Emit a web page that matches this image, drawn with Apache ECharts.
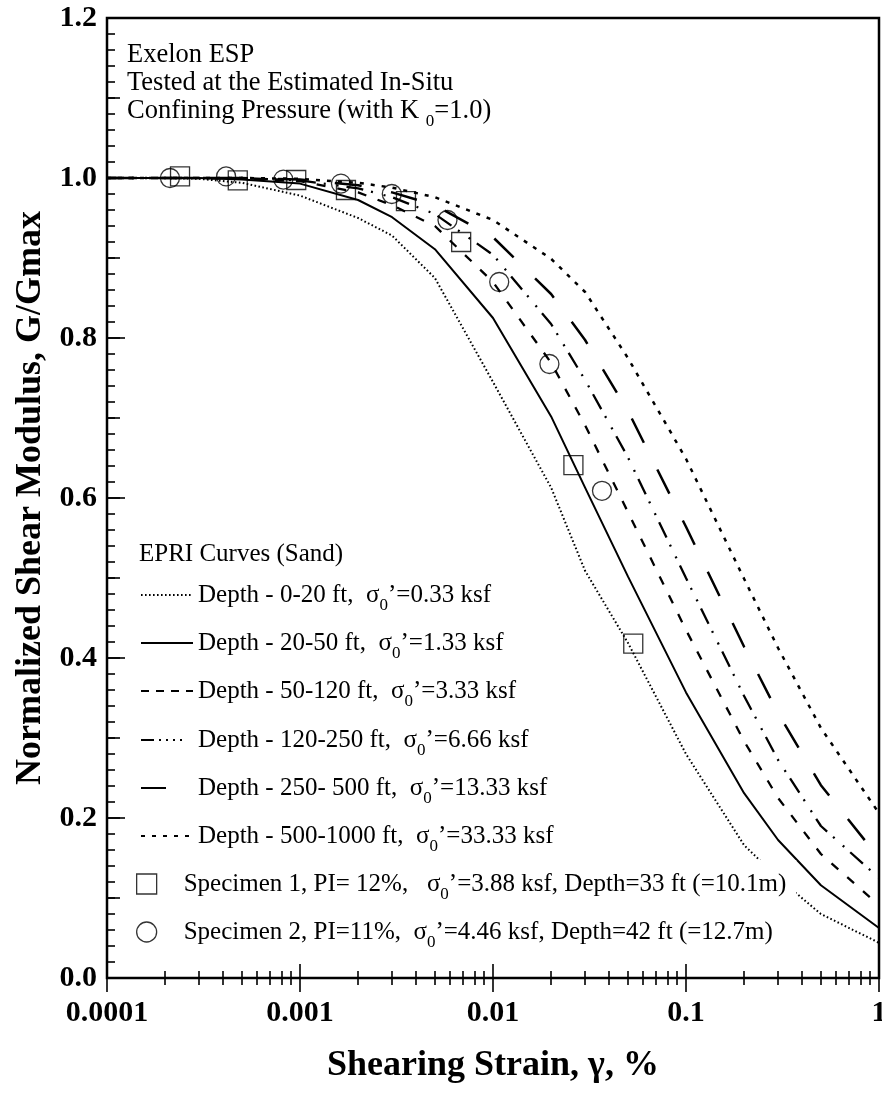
<!DOCTYPE html>
<html><head><meta charset="utf-8">
<script src="https://cdn.jsdelivr.net/npm/echarts@6/dist/echarts.min.js"></script>
<style>html,body{margin:0;padding:0;background:#fff}#c{width:882px;height:1096px}</style>
</head><body><div id="c"></div>
<script>
// ---------- data ----------
const strains = [0.0001, 0.0002, 0.0003, 0.0005, 0.001, 0.002, 0.003, 0.005, 0.01, 0.02, 0.03, 0.05, 0.1, 0.2, 0.3, 0.5, 1.0];
const g_0_20     = [1.0, 1.0, 0.999, 0.994, 0.978, 0.950, 0.928, 0.875, 0.745, 0.613, 0.509, 0.419, 0.280, 0.166, 0.125, 0.080, 0.044];
const g_20_50    = [1.0, 1.0, 1.0, 0.998, 0.993, 0.9725, 0.951, 0.911, 0.825, 0.702, 0.613, 0.502, 0.357, 0.231, 0.1725, 0.116, 0.0625];
const g_50_120   = [1.0, 1.0, 1.0, 0.999, 0.996, 0.982, 0.966, 0.940, 0.870, 0.769, 0.691, 0.5825, 0.435, 0.296, 0.225, 0.155, 0.091];
const g_120_250  = [1.0, 1.0, 1.0, 1.0, 0.997, 0.987, 0.976, 0.955, 0.904, 0.8175, 0.7475, 0.651, 0.500, 0.3525, 0.2725, 0.190, 0.125];
const g_250_500  = [1.0, 1.0, 1.0, 1.0, 0.998, 0.991, 0.982, 0.966, 0.926, 0.855, 0.7975, 0.709, 0.564, 0.414, 0.331, 0.241, 0.150];
const g_500_1000 = [1.0, 1.0, 1.0, 1.0, 0.999, 0.994, 0.988, 0.976, 0.9475, 0.899, 0.8575, 0.775, 0.649, 0.499, 0.4125, 0.3125, 0.206];
const curveNames = ['Depth - 0-20 ft', 'Depth - 20-50 ft', 'Depth - 50-120 ft', 'Depth - 120-250 ft', 'Depth - 250- 500 ft', 'Depth - 500-1000 ft'];
const curveSigma = ['0.33', '1.33', '3.33', '6.66', '13.33', '33.33'];
const curveValues = [g_0_20, g_20_50, g_50_120, g_120_250, g_250_500, g_500_1000];

const spec1Strain = [0.000239, 0.000476, 0.000956, 0.00173, 0.00354, 0.00684, 0.0261, 0.0533];
const spec1G      = [1.002, 0.997, 0.9975, 0.985, 0.971, 0.920, 0.641, 0.418];
const spec2Strain = [0.000212, 0.000414, 0.00082, 0.00163, 0.00299, 0.00581, 0.01077, 0.0196, 0.0367];
const spec2G      = [1.0, 1.002, 0.998, 0.993, 0.980, 0.9475, 0.870, 0.7675, 0.609];
const specNames = ['Specimen 1', 'Specimen 2'];
const specPI = ['PI= 12%,   ', 'PI=11%,  '];
const specSigma = ['3.88', '4.46'];
const specDepth = ['Depth=33 ft (=10.1m)', 'Depth=42 ft (=12.7m)'];

const xTickLabels = ['0.0001', '0.001', '0.01', '0.1', '1'];
const noteLines = ['Exelon ESP', 'Tested at the Estimated In-Situ'];

// ---------- styles ----------
const FONT = "'Liberation Serif', 'Times New Roman', serif";
const lineStyles = [
  {type: [1.6, 2.4], width: 2},
  {type: 'solid', width: 2},
  {type: [9, 12], width: 2.3},
  {type: [17, 8, 2, 11, 2, 8], width: 2.3},
  {type: [27, 30], width: 2.5},
  {type: [4, 7], width: 2.5}
];
const legendLineTypes = [[1.6, 2.4], 'solid', [8, 7], [13, 5, 2, 5, 2, 5, 2, 5, 2, 30], [25, 100], [4, 7]];
const richNote = {
  t: {fontFamily: FONT, fontSize: 26.5, lineHeight: 28, color: '#000'},
  s: {fontFamily: FONT, fontSize: 17, lineHeight: 12, padding: [16, 0, 0, 0], verticalAlign: 'top', color: '#000'}
};
const rich = {
  t: {fontFamily: FONT, fontSize: 25, lineHeight: 28, color: '#000'},
  s: {fontFamily: FONT, fontSize: 17, lineHeight: 12, padding: [16, 0, 0, 0], verticalAlign: 'top', color: '#000'}
};

const labelMap = {};
curveNames.forEach((n, i) => { labelMap[n] = `{t|${n},  σ}{s|0}{t|’=${curveSigma[i]} ksf}`; });
specNames.forEach((n, i) => { labelMap[n] = `{t|${n}, ${specPI[i]}σ}{s|0}{t|’=${specSigma[i]} ksf, ${specDepth[i]}}`; });

const series = curveNames.map((n, i) => ({
  name: n, type: 'line', symbol: 'none', showSymbol: false, animation: false,
  data: strains.map((s, k) => [s, curveValues[i][k]]),
  lineStyle: Object.assign({color: '#000', cap: 'butt'}, lineStyles[i]),
  itemStyle: {color: '#000'}, z: 3
}));
series.push({
  name: specNames[0], type: 'scatter', symbol: 'rect', symbolSize: 19, animation: false,
  data: spec1Strain.map((s, k) => [s, spec1G[k]]),
  itemStyle: {color: 'rgba(0,0,0,0)', borderColor: '#000', borderWidth: 1.3}, z: 4
});
series.push({
  name: specNames[1], type: 'scatter', symbol: 'circle', symbolSize: 19, animation: false,
  data: spec2Strain.map((s, k) => [s, spec2G[k]]),
  itemStyle: {color: 'rgba(0,0,0,0)', borderColor: '#000', borderWidth: 1.3}, z: 4
});

const rowY = [595, 643, 691, 740, 788, 836, 884, 932];
const legends = curveNames.map((n, i) => ({
  left: 140, top: rowY[i] - 14, padding: 0, orient: 'horizontal', selectedMode: false,
  itemWidth: 52, itemHeight: 14,
  data: [{
    name: n,
    lineStyle: {type: legendLineTypes[i], width: 2, color: '#000', cap: 'butt'},
    itemStyle: {color: 'rgba(0,0,0,0)', borderColor: 'rgba(0,0,0,0)', borderWidth: 0, opacity: 0}
  }],
  formatter: (name) => labelMap[name],
  textStyle: {rich: rich}
}));
specNames.forEach((n, i) => {
  legends.push({
    left: 136, top: rowY[6 + i] - 24, padding: 0, orient: 'horizontal', selectedMode: false,
    itemWidth: 20, itemHeight: 20,
    data: [{name: n, itemStyle: {color: 'rgba(0,0,0,0)', borderColor: '#000', borderWidth: 1.3}}],
    formatter: (name) => labelMap[name],
    textStyle: {rich: rich, backgroundColor: '#fff', padding: [10, 10, 10, 22]}
  });
});

const tickStyle = {color: '#000', width: 1.6};
const xBase = {
  type: 'log', logBase: 10, min: 0.0001, max: 1,
  axisLine: {show: false}, splitLine: {show: false}, minorSplitLine: {show: false},
  axisTick: {show: true, inside: true, length: 14, lineStyle: tickStyle},
  minorTick: {show: true, splitNumber: 9, length: 7, lineStyle: tickStyle}
};

const option = {
  backgroundColor: '#fff',
  animation: false,
  grid: {left: 107, right: 3, top: 18, bottom: 118, show: true, borderColor: '#000', borderWidth: 2.5,
    backgroundColor: 'transparent', outerBoundsMode: 'none', containLabel: false},
  xAxis: [
    Object.assign({}, xBase, {
      position: 'bottom',
      axisLabel: {show: true, margin: 20, color: '#000', fontFamily: FONT, fontWeight: 'bold', fontSize: 30,
        formatter: (v) => xTickLabels[Math.round(Math.log10(v)) + 4]},
      name: 'Shearing Strain, γ, %', nameLocation: 'middle', nameGap: 70,
      nameTextStyle: {color: '#000', fontFamily: FONT, fontWeight: 'bold', fontSize: 36}
    }),
    Object.assign({}, xBase, {position: 'top', axisLabel: {show: false}})
  ],
  yAxis: [
    {
      type: 'value', min: 0, max: 1.2, interval: 0.2, position: 'left',
      axisLine: {show: false}, splitLine: {show: false},
      axisTick: {show: true, inside: true, length: 18, lineStyle: tickStyle},
      minorTick: {show: true, splitNumber: 10, length: 8, lineStyle: tickStyle},
      axisLabel: {margin: 10, color: '#000', fontFamily: FONT, fontWeight: 'bold', fontSize: 30, formatter: (v) => v.toFixed(1)},
      name: 'Normalized Shear Modulus, G/Gmax', nameLocation: 'middle', nameGap: 33,
      nameTextStyle: {color: '#000', fontFamily: FONT, fontWeight: 'bold', fontSize: 36}
    },
    {
      type: 'value', min: 0, max: 1.2, interval: 0.1, position: 'left',
      axisLine: {show: false}, splitLine: {show: false}, axisLabel: {show: false},
      axisTick: {show: true, inside: true, length: 13, lineStyle: tickStyle}
    }
  ],
  legend: legends,
  graphic: [
    {type: 'text', left: 127, top: 56 - 14, style: {text: `{t|${noteLines[0]}}`, rich: richNote}},
    {type: 'text', left: 127, top: 84 - 14, style: {text: `{t|${noteLines[1]}}`, rich: richNote}},
    {type: 'text', left: 127, top: 111 - 14, style: {text: '{t|Confining Pressure (with K }{s|0}{t|=1.0)}', rich: richNote}},
    {type: 'text', left: 139, top: 556 - 14, style: {text: '{t|EPRI Curves (Sand)}', rich: rich}}
  ],
  series: series
};
const chart = echarts.init(document.getElementById('c'), null, {renderer: 'canvas'});
chart.setOption(option);
</script></body></html>
